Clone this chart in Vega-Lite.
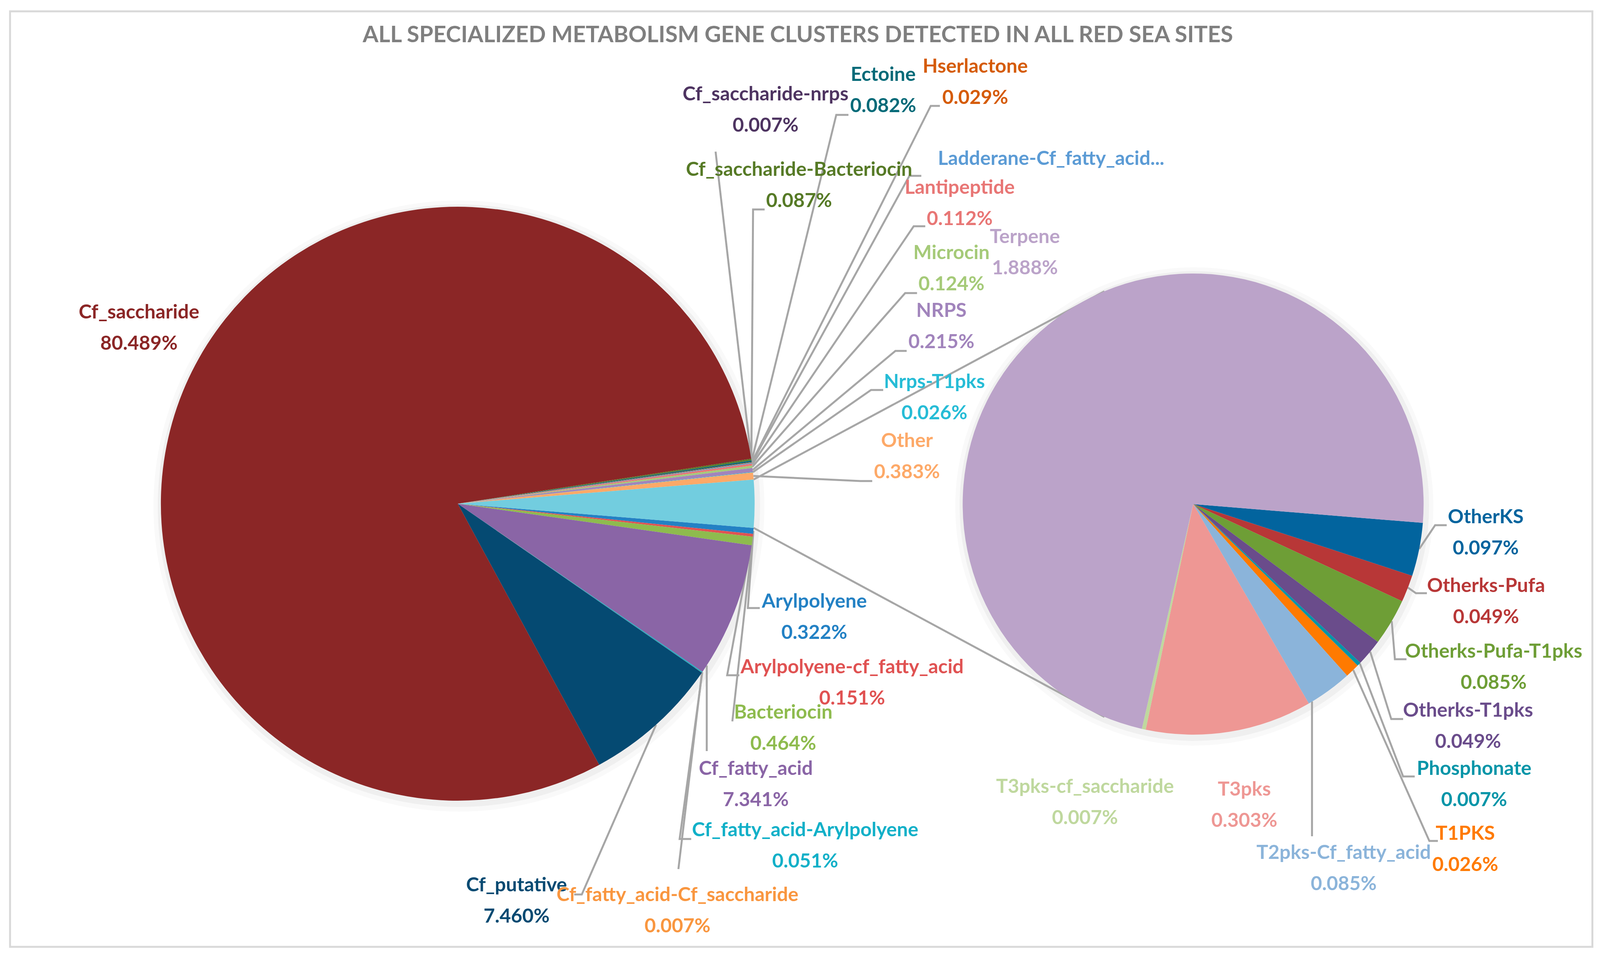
{
  "$schema": "https://vega.github.io/schema/vega-lite/v6.json",
  "width": 4096,
  "height": 2449,
  "padding": 0,
  "autosize": {"type": "none"},
  "background": "#ffffff",
  "config": {"view": {"stroke": null}},
  "datasets": {
    "main": [
      {"name": "Arylpolyene", "value": 0.322, "ord": 1},
      {"name": "Arylpolyene-cf_fatty_acid", "value": 0.151, "ord": 2},
      {"name": "Bacteriocin", "value": 0.464, "ord": 3},
      {"name": "Cf_fatty_acid", "value": 7.341, "ord": 4},
      {"name": "Cf_fatty_acid-Arylpolyene", "value": 0.051, "ord": 5},
      {"name": "Cf_fatty_acid-Cf_saccharide", "value": 0.007, "ord": 6},
      {"name": "Cf_putative", "value": 7.46, "ord": 7},
      {"name": "Cf_saccharide", "value": 80.489, "ord": 8},
      {"name": "Cf_saccharide-Bacteriocin", "value": 0.087, "ord": 9},
      {"name": "Cf_saccharide-nrps", "value": 0.007, "ord": 10},
      {"name": "Ectoine", "value": 0.082, "ord": 11},
      {"name": "Hserlactone", "value": 0.029, "ord": 12},
      {"name": "Ladderane-Cf_fatty_acid...", "value": 0.054, "ord": 13},
      {"name": "Lantipeptide", "value": 0.112, "ord": 14},
      {"name": "Microcin", "value": 0.124, "ord": 15},
      {"name": "NRPS", "value": 0.215, "ord": 16},
      {"name": "Nrps-T1pks", "value": 0.026, "ord": 17},
      {"name": "Other", "value": 0.383, "ord": 18},
      {"name": "Second plot", "value": 2.596, "ord": 19}
    ],
    "sub": [
      {"name": "OtherKS", "value": 0.097, "ord": 1},
      {"name": "Otherks-Pufa", "value": 0.049, "ord": 2},
      {"name": "Otherks-Pufa-T1pks", "value": 0.085, "ord": 3},
      {"name": "Otherks-T1pks", "value": 0.049, "ord": 4},
      {"name": "Phosphonate", "value": 0.007, "ord": 5},
      {"name": "T1PKS", "value": 0.026, "ord": 6},
      {"name": "T2pks-Cf_fatty_acid", "value": 0.085, "ord": 7},
      {"name": "T3pks", "value": 0.303, "ord": 8},
      {"name": "T3pks-cf_saccharide", "value": 0.007, "ord": 9},
      {"name": "Terpene", "value": 1.888, "ord": 10}
    ],
    "labels": [
      {"name": "Cf_saccharide", "pct": "80.489%", "lx": 45.6, "ly": 84.0},
      {"name": "Cf_putative", "pct": "7.460%", "lx": 169.5, "ly": 230.6},
      {"name": "Cf_fatty_acid-Cf_saccharide", "pct": "0.007%", "lx": 222.3, "ly": 233.1},
      {"name": "Cf_fatty_acid-Arylpolyene", "pct": "0.051%", "lx": 264.2, "ly": 216.5},
      {"name": "Cf_fatty_acid", "pct": "7.341%", "lx": 248.0, "ly": 200.8},
      {"name": "Bacteriocin", "pct": "0.464%", "lx": 257.0, "ly": 186.4},
      {"name": "Arylpolyene-cf_fatty_acid", "pct": "0.151%", "lx": 279.6, "ly": 174.8},
      {"name": "Arylpolyene", "pct": "0.322%", "lx": 267.2, "ly": 158.0},
      {"name": "Other", "pct": "0.383%", "lx": 297.6, "ly": 116.9},
      {"name": "Nrps-T1pks", "pct": "0.026%", "lx": 306.6, "ly": 101.8},
      {"name": "NRPS", "pct": "0.215%", "lx": 308.9, "ly": 83.6},
      {"name": "Microcin", "pct": "0.124%", "lx": 312.2, "ly": 68.8},
      {"name": "Lantipeptide", "pct": "0.112%", "lx": 314.9, "ly": 52.1},
      {"name": "Ladderane-Cf_fatty_acid...", "pct": "", "lx": 344.9, "ly": 44.7},
      {"name": "Hserlactone", "pct": "0.029%", "lx": 320.0, "ly": 21.1},
      {"name": "Ectoine", "pct": "0.082%", "lx": 289.8, "ly": 23.2},
      {"name": "Cf_saccharide-Bacteriocin", "pct": "0.087%", "lx": 262.2, "ly": 47.5},
      {"name": "Cf_saccharide-nrps", "pct": "0.007%", "lx": 251.2, "ly": 28.2},
      {"name": "Terpene", "pct": "1.888%", "lx": 336.3, "ly": 64.7},
      {"name": "OtherKS", "pct": "0.097%", "lx": 487.5, "ly": 136.4},
      {"name": "Otherks-Pufa", "pct": "0.049%", "lx": 487.6, "ly": 154.0},
      {"name": "Otherks-Pufa-T1pks", "pct": "0.085%", "lx": 490.1, "ly": 170.8},
      {"name": "Otherks-T1pks", "pct": "0.049%", "lx": 481.7, "ly": 185.9},
      {"name": "Phosphonate", "pct": "0.007%", "lx": 483.7, "ly": 200.8},
      {"name": "T1PKS", "pct": "0.026%", "lx": 480.8, "ly": 217.4},
      {"name": "T2pks-Cf_fatty_acid", "pct": "0.085%", "lx": 440.9, "ly": 222.3},
      {"name": "T3pks", "pct": "0.303%", "lx": 408.3, "ly": 206.1},
      {"name": "T3pks-cf_saccharide", "pct": "0.007%", "lx": 356.0, "ly": 205.4}
    ],
    "leaders": [
      {"id": "Cf_saccharide-nrps", "seq": 1, "x": 246.5, "y": 117.42},
      {"id": "Cf_saccharide-nrps", "seq": 2, "x": 234.8, "y": 38.8},
      {"id": "Cf_saccharide-Bacteriocin", "seq": 1, "x": 246.54, "y": 117.64},
      {"id": "Cf_saccharide-Bacteriocin", "seq": 2, "x": 247.1, "y": 53.6},
      {"id": "Cf_saccharide-Bacteriocin", "seq": 3, "x": 250.9, "y": 53.6},
      {"id": "Ectoine", "seq": 1, "x": 246.62, "y": 118.05},
      {"id": "Ectoine", "seq": 2, "x": 274.4, "y": 29.4},
      {"id": "Ectoine", "seq": 3, "x": 278.4, "y": 29.4},
      {"id": "Hserlactone", "seq": 1, "x": 246.67, "y": 118.31},
      {"id": "Hserlactone", "seq": 2, "x": 305.4, "y": 27.1},
      {"id": "Hserlactone", "seq": 3, "x": 308.4, "y": 27.1},
      {"id": "Ladderane", "seq": 1, "x": 246.7, "y": 118.49},
      {"id": "Ladderane", "seq": 2, "x": 298.4, "y": 45.0},
      {"id": "Ladderane", "seq": 3, "x": 302.3, "y": 45.0},
      {"id": "Lantipeptide", "seq": 1, "x": 246.77, "y": 118.9},
      {"id": "Lantipeptide", "seq": 2, "x": 299.8, "y": 57.9},
      {"id": "Lantipeptide", "seq": 3, "x": 303.6, "y": 57.9},
      {"id": "Microcin", "seq": 1, "x": 246.86, "y": 119.45},
      {"id": "Microcin", "seq": 2, "x": 297.0, "y": 75.0},
      {"id": "Microcin", "seq": 3, "x": 300.9, "y": 75.0},
      {"id": "NRPS", "seq": 1, "x": 246.98, "y": 120.26},
      {"id": "NRPS", "seq": 2, "x": 293.8, "y": 89.8},
      {"id": "NRPS", "seq": 3, "x": 297.5, "y": 89.8},
      {"id": "Nrps-T1pks", "seq": 1, "x": 247.06, "y": 120.82},
      {"id": "Nrps-T1pks", "seq": 2, "x": 285.8, "y": 99.8},
      {"id": "Nrps-T1pks", "seq": 3, "x": 289.8, "y": 99.8},
      {"id": "Other", "seq": 1, "x": 247.19, "y": 121.8},
      {"id": "Other", "seq": 2, "x": 282.3, "y": 123.1},
      {"id": "Other", "seq": 3, "x": 286.2, "y": 123.1},
      {"id": "connector-top", "seq": 1, "x": 247.29, "y": 122.71},
      {"id": "connector-top", "seq": 2, "x": 362.38, "y": 74.54},
      {"id": "connector-bottom", "seq": 1, "x": 247.29, "y": 135.09},
      {"id": "connector-bottom", "seq": 2, "x": 362.38, "y": 183.46},
      {"id": "Arylpolyene", "seq": 1, "x": 247.21, "y": 135.85},
      {"id": "Arylpolyene", "seq": 2, "x": 245.4, "y": 155.6},
      {"id": "Arylpolyene", "seq": 3, "x": 249.3, "y": 155.6},
      {"id": "Arylpolyene-cf_fatty_acid", "seq": 1, "x": 247.06, "y": 136.98},
      {"id": "Arylpolyene-cf_fatty_acid", "seq": 2, "x": 238.6, "y": 172.8},
      {"id": "Arylpolyene-cf_fatty_acid", "seq": 3, "x": 242.6, "y": 172.8},
      {"id": "Bacteriocin", "seq": 1, "x": 246.85, "y": 138.43},
      {"id": "Bacteriocin", "seq": 2, "x": 240.3, "y": 184.6},
      {"id": "Cf_fatty_acid", "seq": 1, "x": 231.9, "y": 170.3},
      {"id": "Cf_fatty_acid", "seq": 2, "x": 231.9, "y": 192.2},
      {"id": "Cf_fatty_acid-Arylpolyene", "seq": 1, "x": 230.43, "y": 172.01},
      {"id": "Cf_fatty_acid-Arylpolyene", "seq": 2, "x": 223.0, "y": 214.7},
      {"id": "Cf_fatty_acid-Arylpolyene", "seq": 3, "x": 226.8, "y": 214.7},
      {"id": "Cf_fatty_acid-Cf_saccharide", "seq": 1, "x": 230.32, "y": 172.13},
      {"id": "Cf_fatty_acid-Cf_saccharide", "seq": 2, "x": 222.6, "y": 222.4},
      {"id": "Cf_putative", "seq": 1, "x": 215.26, "y": 185.47},
      {"id": "Cf_putative", "seq": 2, "x": 190.9, "y": 228.9},
      {"id": "Cf_putative", "seq": 3, "x": 188.4, "y": 228.9},
      {"id": "OtherKS", "seq": 1, "x": 465.69, "y": 140.46},
      {"id": "OtherKS", "seq": 2, "x": 470.9, "y": 134.4},
      {"id": "OtherKS", "seq": 3, "x": 474.7, "y": 134.4},
      {"id": "Otherks-Pufa", "seq": 1, "x": 461.98, "y": 150.38},
      {"id": "Otherks-Pufa", "seq": 2, "x": 464.6, "y": 151.8},
      {"id": "Otherks-Pufa", "seq": 3, "x": 468.2, "y": 151.8},
      {"id": "Otherks-Pufa-T1pks", "seq": 1, "x": 456.66, "y": 158.94},
      {"id": "Otherks-Pufa-T1pks", "seq": 2, "x": 457.7, "y": 168.7},
      {"id": "Otherks-Pufa-T1pks", "seq": 3, "x": 461.5, "y": 168.7},
      {"id": "Otherks-T1pks", "seq": 1, "x": 449.6, "y": 166.77},
      {"id": "Otherks-T1pks", "seq": 2, "x": 456.5, "y": 184.0},
      {"id": "Otherks-T1pks", "seq": 3, "x": 460.4, "y": 184.0},
      {"id": "Phosphonate", "seq": 1, "x": 446.18, "y": 169.76},
      {"id": "Phosphonate", "seq": 2, "x": 460.4, "y": 198.7},
      {"id": "Phosphonate", "seq": 3, "x": 464.2, "y": 198.7},
      {"id": "T1PKS", "seq": 1, "x": 444.03, "y": 171.44},
      {"id": "T1PKS", "seq": 2, "x": 469.0, "y": 215.2},
      {"id": "T1PKS", "seq": 3, "x": 471.8, "y": 215.2},
      {"id": "T2pks-Cf_fatty_acid", "seq": 1, "x": 430.5, "y": 179.5},
      {"id": "T2pks-Cf_fatty_acid", "seq": 2, "x": 430.5, "y": 214.0}
    ]
  },
  "resolve": {"scale": {"theta": "independent"}},
  "layer": [
    {
      "data": {"values": [{"frame": "chart area"}]},
      "mark": {"type": "rect", "fill": null, "stroke": "#d9d9d9", "strokeWidth": 5},
      "encoding": {
        "x": {"datum": 3.3, "type": "quantitative", "scale": {"domain": [0, 525], "nice": false, "zero": false}, "axis": null},
        "x2": {"datum": 522.5},
        "y": {"datum": 2.9, "type": "quantitative", "scale": {"domain": [0, 244.9], "nice": false, "zero": false, "reverse": true}, "axis": null},
        "y2": {"datum": 242.3}
      }
    },
    {
      "data": {"values": [{"title": "ALL SPECIALIZED METABOLISM GENE CLUSTERS DETECTED IN ALL RED SEA SITES"}]},
      "mark": {"type": "text", "font": "Lato", "fontWeight": "bold", "fontSize": 58, "fill": "#7f7f7f", "align": "center", "baseline": "middle"},
      "encoding": {
        "x": {"datum": 261.8, "type": "quantitative"},
        "y": {"datum": 9.1, "type": "quantitative"},
        "text": {"field": "title"}
      }
    },
    {
      "data": {"values": [{"pie": "main"}, {"pie": "sub"}]},
      "layer": [
        {"mark": {"type": "arc", "theta": 0, "theta2": 6.2832, "fill": "#000000", "fillOpacity": 0.025, "xOffset": 3, "yOffset": 6, "outerRadius": 782}, "transform": [{"filter": "datum.pie == 'main'"}], "encoding": {"x": {"datum": 150.2, "type": "quantitative"}, "y": {"datum": 128.9, "type": "quantitative"}}},
        {"mark": {"type": "arc", "theta": 0, "theta2": 6.2832, "fill": "#000000", "fillOpacity": 0.04, "xOffset": 3, "yOffset": 5, "outerRadius": 771}, "transform": [{"filter": "datum.pie == 'main'"}], "encoding": {"x": {"datum": 150.2, "type": "quantitative"}, "y": {"datum": 128.9, "type": "quantitative"}}},
        {"mark": {"type": "arc", "theta": 0, "theta2": 6.2832, "fill": "#000000", "fillOpacity": 0.025, "xOffset": 3, "yOffset": 6, "outerRadius": 612}, "transform": [{"filter": "datum.pie == 'sub'"}], "encoding": {"x": {"datum": 391.5, "type": "quantitative"}, "y": {"datum": 129.0, "type": "quantitative"}}},
        {"mark": {"type": "arc", "theta": 0, "theta2": 6.2832, "fill": "#000000", "fillOpacity": 0.04, "xOffset": 3, "yOffset": 5, "outerRadius": 601}, "transform": [{"filter": "datum.pie == 'sub'"}], "encoding": {"x": {"datum": 391.5, "type": "quantitative"}, "y": {"datum": 129.0, "type": "quantitative"}}}
      ]
    },
    {
      "data": {"name": "leaders"},
      "mark": {"type": "line", "stroke": "#a6a6a6", "strokeWidth": 5, "strokeJoin": "miter"},
      "encoding": {
        "x": {"field": "x", "type": "quantitative"},
        "y": {"field": "y", "type": "quantitative"},
        "detail": {"field": "id"},
        "order": {"field": "seq", "type": "quantitative"}
      }
    },
    {
      "data": {"name": "main"},
      "mark": {"type": "arc", "outerRadius": 760, "strokeWidth": 0},
      "encoding": {
        "x": {"datum": 150.2, "type": "quantitative"},
        "y": {"datum": 128.9, "type": "quantitative"},
        "theta": {"field": "value", "type": "quantitative", "stack": true, "scale": {"range": [1.6524, 7.9356]}},
        "order": {"field": "ord", "type": "quantitative"},
        "color": {
          "field": "name", "type": "nominal", "legend": null,
          "scale": {
            "domain": ["Arylpolyene", "Arylpolyene-cf_fatty_acid", "Bacteriocin", "Cf_fatty_acid", "Cf_fatty_acid-Arylpolyene", "Cf_fatty_acid-Cf_saccharide", "Cf_putative", "Cf_saccharide", "Cf_saccharide-Bacteriocin", "Cf_saccharide-nrps", "Ectoine", "Hserlactone", "Ladderane-Cf_fatty_acid...", "Lantipeptide", "Microcin", "NRPS", "Nrps-T1pks", "Other", "Second plot", "OtherKS", "Otherks-Pufa", "Otherks-Pufa-T1pks", "Otherks-T1pks", "Phosphonate", "T1PKS", "T2pks-Cf_fatty_acid", "T3pks", "T3pks-cf_saccharide", "Terpene"],
            "range": ["#2381C4", "#E05252", "#8EBB4E", "#8A65A6", "#11B0C8", "#F9963F", "#054A72", "#8B2626", "#567A26", "#4E3461", "#026A78", "#D55B06", "#5B9BD5", "#E87675", "#A5CA78", "#A184BC", "#26BCD6", "#FDA968", "#72CDDF", "#02649E", "#B83737", "#6E9E36", "#6A4C8B", "#0495A8", "#FF7A00", "#8BB4DA", "#EE9794", "#BFD89E", "#BBA3C9"]
          }
        }
      }
    },
    {
      "data": {"name": "sub"},
      "mark": {"type": "arc", "outerRadius": 590, "strokeWidth": 0},
      "encoding": {
        "x": {"datum": 391.5, "type": "quantitative"},
        "y": {"datum": 129.0, "type": "quantitative"},
        "theta": {"field": "value", "type": "quantitative", "stack": true, "scale": {"range": [1.6524, 7.9356]}},
        "order": {"field": "ord", "type": "quantitative"},
        "color": {"field": "name", "type": "nominal", "legend": null}
      }
    },
    {
      "data": {"name": "labels"},
      "mark": {"type": "text", "font": "Lato", "fontWeight": "bold", "fontSize": 50, "align": "center", "baseline": "middle", "dy": -40},
      "encoding": {
        "x": {"field": "lx", "type": "quantitative"},
        "y": {"field": "ly", "type": "quantitative"},
        "text": {"field": "name"},
        "color": {"field": "name", "type": "nominal", "legend": null}
      }
    },
    {
      "data": {"name": "labels"},
      "mark": {"type": "text", "font": "Lato", "fontWeight": "bold", "fontSize": 50, "align": "center", "baseline": "middle", "dy": 40},
      "encoding": {
        "x": {"field": "lx", "type": "quantitative"},
        "y": {"field": "ly", "type": "quantitative"},
        "text": {"field": "pct"},
        "color": {"field": "name", "type": "nominal", "legend": null}
      }
    }
  ]
}
